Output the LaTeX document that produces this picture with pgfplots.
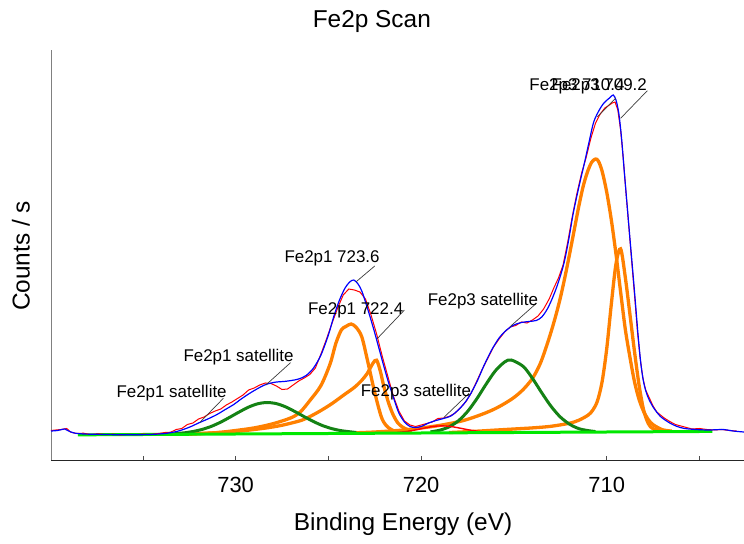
\documentclass[border=0pt]{standalone}
\usepackage{fontspec}
\setmainfont{Liberation Sans}
\usepackage{pgfplots}
\pgfplotsset{compat=1.18}

\definecolor{fitorange}{RGB}{255,128,0}
\definecolor{satgreen}{RGB}{20,130,20}
\definecolor{bgline}{RGB}{0,232,0}
\definecolor{leader}{RGB}{60,60,60}

\begin{document}
\begin{tikzpicture}
\useasboundingbox (0,0) rectangle (744bp,544bp);
\begin{axis}[
  at={(51bp,84bp)}, anchor=south west,
  width=693bp, height=410bp, scale only axis,
  x dir=reverse,
  xmin=702.6, xmax=739.95, ymin=0, ymax=410,
  axis x line*=bottom, axis y line*=left,
  x axis line style={-, black!85, line width=0.8bp},
  y axis line style={-, black!50, line width=0.8bp},
  xtick={710,720,730}, minor xtick={705,725,735}, ytick=\empty,
  tick align=inside, major tick length=3.5bp, minor tick length=3.5bp,
  tick style={black!70, line width=0.6bp},
  /pgf/number format/assume math mode=true,
  xticklabel style={font=\fontsize{22}{26}\selectfont, inner sep=0pt, anchor=north, yshift=-17bp},
  xlabel={Binding Energy (eV)},
  xlabel style={at={(axis description cs:0.508,-0.156)}, anchor=center, font=\fontsize{24.5}{28}\selectfont},
  ylabel={Counts / s},
  ylabel style={at={(axis description cs:-0.0433,0.4976)}, anchor=center, font=\fontsize{24.5}{28}\selectfont},
  title={Fe2p Scan},
  title style={at={(axis description cs:0.463,1.0561)}, anchor=center, font=\fontsize{24.5}{28}\selectfont},
  clip=false,
]
% Fe2p3 710.4 component
\addplot[fitorange, line width=3.3bp, smooth] coordinates {
(706.5,28.9) (707.0,30.3) (707.5,35.3) (707.75,40.2) (708.0,48.2) (708.25,60.2)
(708.5,78.1) (708.75,103.1) (709.0,131.1) (709.25,168.1) (709.5,206) (709.75,240)
(710.0,268) (710.25,289) (710.45,299) (710.6,301) (710.8,298) (711.0,290)
(711.25,275) (711.5,254) (711.75,230) (712.0,206) (712.25,183) (712.5,162)
(712.75,144) (713.0,128) (713.3,110.7) (713.6,95.6) (714.0,81.6) (714.5,70.5)
(715.0,62.5) (715.5,56.5) (716.0,51.4) (716.5,47.3) (717.0,43.8) (717.5,40.7)
(718.0,38.2) (719.0,34.6) (720.0,32) (721.0,29.9) (722.5,28) (724.0,26.9)};
% Fe2p3 709.2 component
\addplot[fitorange, line width=3.3bp, smooth] coordinates {
(707.0,28.8) (707.5,31.2) (707.75,36.2) (708.0,49.2) (708.25,74.2) (708.5,108.2)
(708.75,146.1) (709.0,183.1) (709.25,211.1) (709.5,196) (709.75,156) (710.0,111)
(710.25,78) (710.5,59) (710.75,49.9) (711.0,44.9) (711.5,39.8) (712.0,36.8)
(713.0,33.7) (714.0,32.1) (715.0,31) (716.0,29.9) (717.0,28.8) (718.5,27.45)};
% Fe2p1 723.6 component
\addplot[fitorange, line width=3.3bp, smooth] coordinates {
(721.25,27.9) (721.6,30.3) (721.9,34.8) (722.15,43.3) (722.5,67.3) (722.9,100.2)
(723.2,123.2) (723.5,132.6) (723.77,136) (724.05,133.6) (724.3,130.1) (724.6,116.5)
(724.9,96.5) (725.4,74.5) (726.0,59.4) (726.5,48.3) (727.0,42.3) (728.0,36.2)
(729.0,32.1) (730.0,29.5) (731.0,27.4) (732.5,25.75)};
% Fe2p1 722.4 component
\addplot[fitorange, line width=3.3bp, smooth] coordinates {
(720.5,28.55) (720.75,30.6) (721.0,32.9) (721.25,36.9) (721.5,44.85) (721.75,56.8)
(722.0,72.8) (722.2,88.8) (722.4,99.8) (722.6,96.7) (722.9,86.7) (723.2,79.7)
(723.6,72.6) (724.2,64.6) (724.8,56.5) (725.4,49.5) (726.0,43.4) (726.5,39.4)
(727.5,34.75) (728.5,31.65) (730.0,28.5) (731.5,26.85) (733.0,25.7)};
% Fe2p3 satellite
\addplot[satgreen, line width=3bp, smooth] coordinates {
(710.6,28.4) (711.0,29.4) (711.5,31.35) (712.0,35.8) (712.5,43) (713.0,53.7) (713.5,67.2) (714.0,81.6)
(714.5,93.6) (715.15,100) (715.5,98) (716.0,89.2) (716.5,75.8) (717.0,61.2)
(717.5,48.5) (718.0,39.1) (718.5,33.1) (719.0,29.8) (719.5,28.1)};
% Fe2p1 satellite
\addplot[satgreen, line width=3bp, smooth] coordinates {
(723.5,27.5) (724.3,29.3) (724.8,31.3) (725.3,34.3) (725.8,38.45) (726.3,43.3)
(726.8,48.4) (727.3,53.1) (727.8,56.35) (728.3,57.5) (728.8,56.25) (729.3,52.9)
(729.8,48.1) (730.3,42.9) (730.8,37.9) (731.3,33.7) (731.8,30.6) (732.3,28.5)
(732.8,27.1) (733.3,26.4)};
% small Fe2p3 satellite
\addplot[red, line width=1.4bp, smooth] coordinates {
(716.5,27.9) (717.0,28.9) (717.5,30.35) (718.0,32.2) (718.5,33.75) (718.9,34.1)
(719.3,33.7) (719.8,32.0) (720.3,30.1) (720.8,28.5) (721.3,27.5)};
% background
\addplot[bgline, line width=3bp] coordinates {(704.3,28.57) (738.5,25.15)};
% measured data
\addplot[red, line width=1bp] coordinates {
(739.95,29.5) (739.7,30) (739.4,30.5) (739.1,31.5) (738.9,28) (738.6,26.5)
(738.2,26.8) (737.8,25.5) (737.4,26.2) (737.0,25.4) (736.6,25.8) (736.2,25.1)
(735.8,25.7) (735.4,25.3) (735.0,25.9) (734.6,25.5) (734.2,26.4) (733.8,27.5)
(733.5,27.8) (733.2,30.5) (732.9,31.5) (732.6,35.5) (732.3,37) (732.0,41)
(731.7,43) (731.4,46.5) (731.1,49) (730.8,51) (730.5,55) (730.2,58)
(729.9,61.5) (729.6,65) (729.3,70) (729.0,72) (728.7,75) (728.4,77)
(728.1,76.5) (727.8,74) (727.5,70.5) (727.2,71) (726.9,75) (726.6,79)
(726.3,82) (726.0,85.5) (725.7,92) (725.4,106) (725.1,121) (724.8,137)
(724.5,152) (724.2,165) (723.9,171) (723.6,170) (723.3,168) (723.0,161)
(722.7,145) (722.4,126) (722.1,104) (721.8,84) (721.5,64) (721.2,49)
(720.9,39) (720.6,35) (720.3,33.5) (720.0,35) (719.7,36.5) (719.4,38)
(719.1,41.5) (718.8,42) (718.5,43.5) (718.2,46.5) (717.9,52) (717.6,58)
(717.3,67) (717.0,79) (716.7,91) (716.4,102) (716.1,113) (715.8,121)
(715.5,128) (715.2,133) (714.9,134.5) (714.6,138) (714.3,137) (714.0,140)
(713.7,144) (713.4,151) (713.1,161) (712.85,172) (712.6,182) (712.35,195)
(712.1,218) (711.85,244) (711.6,267) (711.35,287) (711.1,303) (710.85,322)
(710.6,337) (710.35,346) (710.1,352) (709.85,355) (709.7,357) (709.55,358)
(709.4,350) (709.25,330) (709.1,300) (708.95,265) (708.8,232) (708.65,198)
(708.5,165) (708.35,130) (708.2,102) (708.05,82) (707.9,70) (707.7,62)
(707.5,54) (707.3,48) (707.1,45) (706.9,42) (706.6,38.5) (706.3,35.5)
(706.0,34) (705.7,32.5) (705.4,31) (705.0,31.5) (704.6,30.5) (704.2,30)
(703.8,30.5) (703.4,29.5) (703.0,29)};
% fitted envelope
\addplot[blue, line width=1.2bp, smooth] coordinates {
(739.95,29) (739.6,29.5) (739.2,31) (739.0,29) (738.7,27) (738.2,26)
(737.5,25.7) (736.5,25.3) (735.5,25.2) (734.5,25.6) (733.8,26.5) (733.3,28)
(732.9,30) (732.4,33.5) (732.0,37) (731.5,41) (731.0,45.5) (730.6,50)
(730.1,55.5) (729.7,61) (729.3,66) (728.9,70.5) (728.5,74.5) (728.2,76.5)
(727.8,78) (727.4,78.5) (727.0,79.5) (726.6,81) (726.2,84.5) (725.8,92)
(725.4,105) (725.0,125) (724.7,144) (724.4,160) (724.1,172) (723.85,178)
(723.63,180) (723.4,176) (723.2,169) (723.0,158) (722.75,143) (722.5,127)
(722.25,110) (722.0,93) (721.75,77) (721.45,60) (721.2,47) (720.9,38)
(720.6,33.5) (720.3,32.5) (720.0,33.5) (719.6,37) (719.2,39.5) (718.8,41.5)
(718.4,44) (718.0,50) (717.7,56) (717.4,64) (717.0,78) (716.6,95)
(716.2,110) (715.8,122) (715.4,130) (715.0,135) (714.6,137.5) (714.2,138.5)
(713.8,139.5) (713.5,143) (713.2,151) (712.9,163) (712.6,178) (712.3,197)
(712.05,220) (711.8,247) (711.5,273) (711.2,297) (710.95,318) (710.7,338)
(710.4,350) (710.15,357) (709.85,362) (709.65,365) (709.5,360) (709.35,347)
(709.2,322) (709.05,288) (708.9,255) (708.75,222) (708.6,190) (708.45,157)
(708.3,123) (708.15,95) (708.0,77) (707.8,64) (707.5,53) (707.1,43.5)
(706.6,37) (706.2,33.5) (705.8,31.5) (705.2,30.5) (704.5,30) (703.7,30.5)
(703.2,29) (702.6,28)};
% peak labels
\begin{scope}[every node/.style={font=\fontsize{17}{20}\selectfont, inner sep=0pt, anchor=center}]
\draw[leader, line width=0.7bp] (axis cs:730.66,61.7) -- (axis cs:731.92,37.7);
\node at (axis cs:733.45,67) {Fe2p1 satellite};
\draw[leader, line width=0.7bp] (axis cs:727.04,97.3) -- (axis cs:728.37,75);
\node at (axis cs:729.84,103) {Fe2p1 satellite};
\draw[leader, line width=0.7bp] (axis cs:722.5,194) -- (axis cs:723.5,178.3);
\node at (axis cs:724.8,202) {Fe2p1 723.6};
\draw[leader, line width=0.7bp] (axis cs:720.9,150) -- (axis cs:722.37,121.3);
\node at (axis cs:723.53,150) {Fe2p1 722.4};
\draw[leader, line width=0.7bp] (axis cs:717.42,66.7) -- (axis cs:718.77,42.7);
\node at (axis cs:720.28,68.3) {Fe2p3 satellite};
\draw[leader, line width=0.7bp] (axis cs:713.83,156) -- (axis cs:715.21,133.3);
\node at (axis cs:716.67,159) {Fe2p3 satellite};
\draw[leader, line width=0.7bp] (axis cs:709.52,361.7) -- (axis cs:710.5,343.3);
\node at (axis cs:711.6,373.3) {Fe2p3 710.4};
\draw[leader, line width=0.7bp] (axis cs:707.81,369.3) -- (axis cs:709.25,341.7);
\node at (axis cs:710.4,373.3) {Fe2p3 709.2};
\end{scope}
\end{axis}
\end{tikzpicture}
\end{document}
